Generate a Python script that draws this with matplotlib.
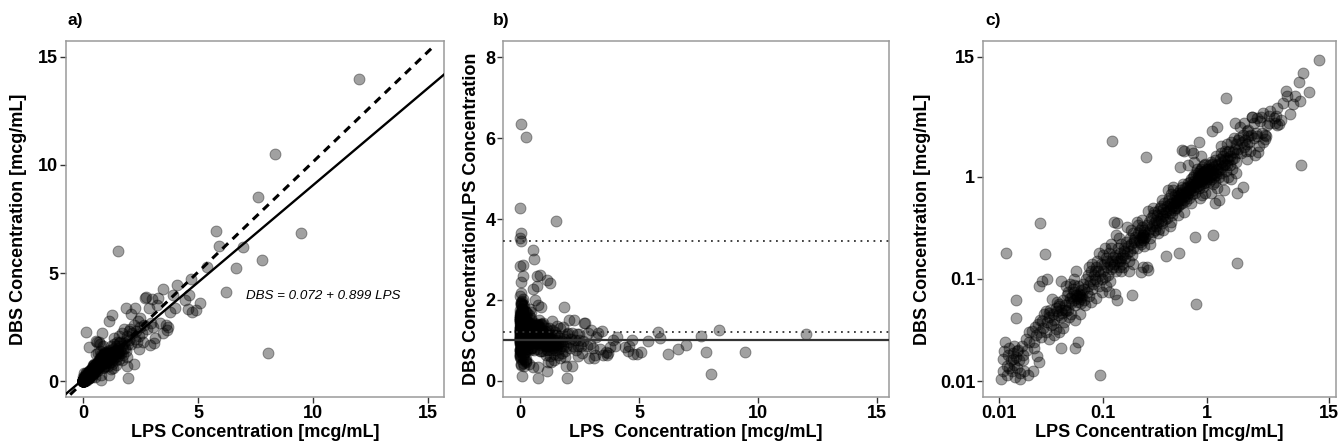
import numpy as np
import matplotlib
matplotlib.use("Agg")
import matplotlib.pyplot as plt

plt.rcParams["font.family"] = ["Liberation Sans", "DejaVu Sans"]

# LPS vs DBS concentration pairs [mcg/mL] (grouped by LPS range)
lps = [
    0.0105, 0.0108, 0.011, 0.0112, 0.0115, 0.012, 0.0118, 0.0122, 0.0125, 0.0124, 0.0116,
    0.013, 0.0132, 0.0135, 0.0138, 0.014, 0.0142, 0.0145, 0.0148, 0.015, 0.0145, 0.0145, 0.0152, 0.0155, 0.0158, 0.0135,
    0.016, 0.0165, 0.017, 0.0175, 0.018, 0.0185, 0.019, 0.0195, 0.0168, 0.0192,
    0.0205, 0.021, 0.0215, 0.022, 0.0225, 0.023, 0.0235, 0.024, 0.0245, 0.024, 0.0215, 0.0248,
    0.025, 0.0255, 0.026, 0.0265, 0.027, 0.0277, 0.028, 0.0285, 0.029, 0.03, 0.0305, 0.031, 0.0315, 0.026, 0.029, 0.03,
    0.0325, 0.033, 0.034, 0.035, 0.0355, 0.036, 0.037, 0.0375, 0.038, 0.039, 0.0395, 0.034, 0.036, 0.038, 0.039, 0.033, 0.039,
    0.04, 0.041, 0.042, 0.043, 0.044, 0.045, 0.046, 0.047, 0.048, 0.049, 0.0415, 0.044, 0.046, 0.048, 0.0495, 0.043, 0.047,
    0.05, 0.051, 0.052, 0.053, 0.054, 0.055, 0.056, 0.057, 0.058, 0.059, 0.06, 0.061, 0.062, 0.0525, 0.055, 0.054, 0.057,
    0.06, 0.054, 0.057, 0.06, 0.062, 0.053,
    0.063, 0.064, 0.065, 0.066, 0.068, 0.07, 0.071, 0.072, 0.074, 0.075, 0.076, 0.078, 0.079, 0.067, 0.073, 0.077,
    0.08, 0.082, 0.084, 0.085, 0.087, 0.088, 0.09, 0.092, 0.094, 0.095, 0.097, 0.099, 0.094, 0.086, 0.091, 0.098, 0.083,
    0.1, 0.102, 0.104, 0.106, 0.108, 0.11, 0.112, 0.114, 0.116, 0.118, 0.12, 0.121, 0.122, 0.124, 0.125, 0.107, 0.113,
    0.119, 0.105, 0.117,
    0.127, 0.13, 0.132, 0.135, 0.138, 0.14, 0.142, 0.145, 0.148, 0.15, 0.152, 0.155, 0.158, 0.13, 0.137, 0.143, 0.156,
    0.134, 0.15, 0.146, 0.126, 0.135,
    0.16, 0.163, 0.166, 0.17, 0.173, 0.176, 0.18, 0.183, 0.186, 0.19, 0.193, 0.196, 0.199, 0.19, 0.17, 0.178, 0.185, 0.195,
    0.2, 0.205, 0.21, 0.215, 0.22, 0.225, 0.23, 0.232, 0.235, 0.238, 0.24, 0.242, 0.245, 0.248, 0.21, 0.23, 0.236, 0.244,
    0.228, 0.218, 0.24, 0.246,
    0.25, 0.255, 0.26, 0.262, 0.27, 0.275, 0.28, 0.285, 0.29, 0.295, 0.3, 0.305, 0.31, 0.315, 0.27, 0.27, 0.3, 0.265,
    0.28, 0.31,
    0.32, 0.325, 0.33, 0.335, 0.34, 0.345, 0.35, 0.355, 0.36, 0.365, 0.37, 0.375, 0.38, 0.385, 0.39, 0.395, 0.34, 0.37,
    0.38, 0.36,
    0.4, 0.4, 0.41, 0.415, 0.42, 0.43, 0.435, 0.44, 0.445, 0.45, 0.455, 0.46, 0.465, 0.47, 0.475, 0.48, 0.485, 0.49,
    0.495, 0.42, 0.45, 0.47, 0.44, 0.49,
    0.5, 0.505, 0.51, 0.515, 0.52, 0.525, 0.53, 0.535, 0.54, 0.54, 0.545, 0.55, 0.555, 0.56, 0.565, 0.57, 0.575, 0.58,
    0.585, 0.59, 0.595, 0.6, 0.61, 0.62, 0.625, 0.55, 0.6, 0.57, 0.6, 0.52,
    0.63, 0.64, 0.645, 0.65, 0.66, 0.665, 0.67, 0.68, 0.685, 0.69, 0.7, 0.705, 0.71, 0.72, 0.725, 0.73, 0.735, 0.74,
    0.75, 0.755, 0.76, 0.77, 0.77, 0.78, 0.785, 0.79, 0.795, 0.78, 0.7, 0.75, 0.7, 0.65,
    0.8, 0.81, 0.815, 0.82, 0.84, 0.83, 0.84, 0.845, 0.85, 0.86, 0.865, 0.87, 0.875, 0.88, 0.89, 0.895, 0.9, 0.905,
    0.91, 0.92, 0.925, 0.93, 0.94, 0.945, 0.95, 0.96, 0.965, 0.97, 0.98, 0.99, 0.85, 0.9, 0.95, 0.88,
    1.0, 1.01, 1.02, 1.03, 1.04, 1.05, 1.06, 1.07, 1.08, 1.09, 1.1, 1.11, 1.12, 1.13, 1.14, 1.15, 1.15, 1.16,
    1.12, 1.18, 1.19, 1.2, 1.21, 1.22, 1.23, 1.24, 1.25, 1.1, 1.2, 1.26,
    1.27, 1.28, 1.3, 1.32, 1.33, 1.35, 1.37, 1.38, 1.4, 1.42, 1.43, 1.45, 1.47, 1.48, 1.52, 1.5, 1.52, 1.54,
    1.55, 1.57, 1.58, 1.3, 1.45, 1.35, 1.56,
    1.6, 1.63, 1.65, 1.68, 1.7, 1.72, 1.75, 1.78, 1.8, 1.82, 1.85, 1.86, 1.88, 1.9, 1.93, 1.96, 1.95, 1.98, 1.7, 1.9,
    2.0, 2.03, 2.07, 2.1, 2.15, 2.2, 2.2, 2.25, 2.28, 2.3, 2.35, 2.4, 2.42, 2.45, 2.48,
    2.5, 2.55, 2.6, 2.65, 2.68, 2.73, 2.8, 2.85, 2.9, 2.95, 3.0, 3.05, 3.1, 3.15, 3.2,
    3.27, 3.35, 3.46, 3.49, 3.6, 3.65, 3.7, 3.8, 3.93, 3.98,
    4.07, 4.43, 4.55, 4.6, 4.7, 4.9, 4.75,
    5.1, 5.4, 5.8, 5.9, 6.23, 6.65, 6.96, 7.6, 7.8, 8.03, 8.35, 9.47, 12.0,
]

dbs = [
    0.0105, 0.0125, 0.0165, 0.0195, 0.024, 0.014, 0.0115, 0.018, 0.021, 0.0135, 0.18,
    0.016, 0.0125, 0.019, 0.022, 0.0145, 0.011, 0.017, 0.0195, 0.0135, 0.062, 0.041, 0.02, 0.016, 0.012, 0.0165,
    0.0105, 0.022, 0.018, 0.0125, 0.026, 0.02, 0.0115, 0.024, 0.016, 0.03,
    0.031, 0.0125, 0.024, 0.034, 0.028, 0.0175, 0.036, 0.0155, 0.03, 0.085, 0.021, 0.04,
    0.355, 0.027, 0.039, 0.033, 0.045, 0.176, 0.03, 0.048, 0.038, 0.042, 0.026, 0.05, 0.035, 0.095, 0.1, 0.046,
    0.063, 0.045, 0.04, 0.052, 0.032, 0.048, 0.044, 0.057, 0.03, 0.05, 0.042, 0.028, 0.06, 0.054, 0.095, 0.036, 0.021,
    0.046, 0.062, 0.038, 0.055, 0.048, 0.07, 0.05, 0.042, 0.065, 0.058, 0.033, 0.085, 0.075, 0.09, 0.045, 0.05, 0.06,
    0.068, 0.08, 0.062, 0.075, 0.055, 0.07, 0.065, 0.085, 0.06, 0.072, 0.064, 0.078, 0.058, 0.1, 0.12, 0.021, 0.024,
    0.045, 0.04, 0.068, 0.07, 0.066, 0.088,
    0.07, 0.09, 0.062, 0.08, 0.1, 0.075, 0.11, 0.085, 0.068, 0.095, 0.12, 0.08, 0.14, 0.055, 0.13, 0.06,
    0.09, 0.11, 0.1, 0.13, 0.095, 0.15, 0.12, 0.085, 0.11, 0.14, 0.1, 0.17, 0.0114, 0.065, 0.18, 0.075, 0.12,
    0.12, 0.14, 0.105, 0.16, 0.13, 0.15, 0.11, 0.18, 0.14, 0.125, 0.2, 2.27, 0.15, 0.165, 0.13, 0.085, 0.075,
    0.22, 0.2, 0.095,
    0.14, 0.17, 0.12, 0.16, 0.2, 0.15, 0.13, 0.18, 0.16, 0.22, 0.14, 0.17, 0.19, 0.072, 0.062, 0.25, 0.13,
    0.27, 0.12, 0.15, 0.36, 0.35,
    0.2, 0.16, 0.23, 0.18, 0.21, 0.15, 0.25, 0.19, 0.22, 0.17, 0.28, 0.2, 0.24, 0.069, 0.32, 0.12, 0.3, 0.14,
    0.23, 0.26, 0.2, 0.28, 0.24, 0.3, 0.22, 0.26, 0.25, 0.32, 0.24, 0.27, 0.21, 0.29, 0.36, 0.118, 0.38, 0.13,
    0.23, 0.34, 0.27, 0.25,
    0.3, 0.26, 1.57, 0.34, 0.28, 0.36, 0.31, 0.25, 0.4, 0.33, 0.29, 0.42, 0.35, 0.3, 0.46, 0.123, 0.5, 0.13,
    0.22, 0.45,
    0.38, 0.33, 0.42, 0.36, 0.46, 0.31, 0.4, 0.5, 0.37, 0.43, 0.35, 0.48, 0.41, 0.55, 0.39, 0.45, 0.28, 0.6,
    0.3, 0.52,
    0.168, 0.45, 0.52, 0.4, 0.58, 0.47, 0.62, 0.44, 0.54, 0.5, 0.68, 0.42, 0.56, 0.52, 0.74, 0.47, 0.6, 0.55,
    0.5, 0.75, 0.36, 0.8, 0.33, 0.66,
    0.58, 0.5, 0.64, 0.55, 0.7, 0.6, 0.52, 0.66, 0.18, 0.58, 0.75, 0.62, 0.54, 0.68, 0.6, 0.8, 0.56, 0.72,
    0.64, 0.85, 0.6, 0.7, 0.66, 0.78, 0.58, 1.25, 1.8, 1.85, 0.45, 0.42,
    0.72, 0.65, 0.8, 0.7, 0.88, 0.75, 0.62, 0.82, 0.9, 0.72, 0.95, 0.78, 0.68, 0.86, 1.0, 0.8, 1.72, 0.74,
    0.92, 1.05, 0.85, 0.26, 0.7, 1.1, 0.9, 0.8, 1.2, 0.057, 0.55, 1.4, 1.82, 1.3,
    0.88, 1.0, 0.82, 1.1, 2.2, 0.95, 0.78, 1.05, 0.9, 1.15, 0.98, 0.85, 1.2, 1.0, 0.92, 1.25, 1.05, 0.8,
    1.12, 0.96, 1.3, 1.0, 0.88, 1.1, 1.35, 0.98, 1.15, 0.9, 1.05, 1.2, 0.62, 0.66, 0.7, 1.6,
    1.05, 0.95, 1.2, 1.1, 0.9, 1.3, 1.0, 1.15, 1.4, 0.95, 1.2, 1.05, 1.35, 0.85, 1.1, 0.27, 1.25, 1.0,
    2.8, 1.45, 1.1, 0.9, 1.3, 1.6, 1.05, 1.2, 0.78, 0.7, 0.55, 3.06,
    1.15, 1.35, 1.0, 1.5, 1.2, 1.7, 1.1, 1.4, 1.25, 1.6, 0.95, 1.45, 1.3, 1.8, 6.0, 1.35, 1.15, 1.55,
    2.1, 1.3, 1.0, 0.6, 0.75, 2.0, 1.75,
    1.45, 1.8, 1.3, 1.6, 2.2, 1.5, 1.2, 1.75, 2.4, 1.55, 1.9, 3.4, 1.4, 2.1, 0.7, 0.145, 1.7, 2.3, 0.95, 1.1,
    1.9, 2.4, 3.1, 1.7, 2.2, 0.79, 2.6, 1.95, 3.4, 2.3, 1.8, 2.8, 2.1, 1.5, 2.5,
    2.9, 2.2, 1.8, 2.6, 3.85, 3.9, 2.4, 3.4, 1.65, 2.7, 3.8, 2.5, 1.75, 2.0, 3.5,
    3.86, 2.67, 4.27, 2.2, 2.6, 2.35, 2.5, 3.2, 4.0, 3.4,
    4.45, 3.75, 3.35, 4.0, 4.7, 3.3, 3.2,
    3.6, 5.3, 6.95, 6.25, 4.1, 5.22, 6.2, 8.5, 5.6, 1.3, 10.5, 6.85, 14.0,
]

assert len(lps) == len(dbs), (len(lps), len(dbs))

# fitted line in a), shown in the annotation
fit_intercept, fit_slope = 0.072, 0.899
# dashed reference line in a) and where it stops
ref_intercept, ref_slope = -0.06, 1.02
ref_end = 15.25
# horizontal reference lines in b)
ratio_solid = 1.0
ratio_dotted = [1.21, 3.46]

lin_ticks = [0, 5, 10, 15]
ratio_ticks = [0, 2, 4, 6, 8]
log_ticks = [0.01, 0.1, 1, 15]
log_labels = ["0.01", "0.1", "1", "15"]

lps = np.array(lps)
dbs = np.array(dbs)
ratio = dbs / lps

W, H = 1339, 447
fig = plt.figure(figsize=(W / 100, H / 100), dpi=100)


def box(left, right, top=41, bottom=397):
    return [left / W, 1 - bottom / H, (right - left) / W, (bottom - top) / H]


ax_a = fig.add_axes(box(66, 444))
ax_b = fig.add_axes(box(503, 889))
ax_c = fig.add_axes(box(983, 1336))

pt_style = dict(s=62, facecolor="black", edgecolor="black", linewidths=0.7, alpha=0.37, zorder=2)
tick_font = dict(fontsize=13, fontweight="bold")
label_font = dict(fontsize=13, fontweight="bold")


def style(ax):
    for sp in ax.spines.values():
        sp.set_color("#9a9a9a")
        sp.set_linewidth(1.1)
    ax.tick_params(direction="out", length=4, width=1, color="#333333", pad=1.5)
    ax.minorticks_off()


# a) linear scatter
ax_a.scatter(lps, dbs, **pt_style)
xx = np.array([-1, 17])
ax_a.plot(xx, fit_intercept + fit_slope * xx, color="black", lw=1.7, zorder=3)
xd = np.array([-1, ref_end])
ax_a.plot(xd, ref_intercept + ref_slope * xd, color="black", lw=2.2, dashes=(2.6, 2.0), zorder=3)
ax_a.set_xlim(-0.74, 15.7)
ax_a.set_ylim(-0.74, 15.74)
ax_a.set_xticks(lin_ticks, [str(t) for t in lin_ticks], **tick_font)
ax_a.set_yticks(lin_ticks, [str(t) for t in lin_ticks], **tick_font)
ax_a.set_xlabel("LPS Concentration [mcg/mL]", labelpad=2, **label_font)
ax_a.set_ylabel("DBS Concentration [mcg/mL]", labelpad=8, **label_font)
ax_a.text(7.1, 3.95, "DBS = 0.072 + 0.899 LPS", fontsize=9.6, style="italic", va="center", ha="left")
style(ax_a)

# b) ratio vs LPS
ax_b.scatter(lps, ratio, **pt_style)
ax_b.axhline(ratio_solid, color="#333333", lw=1.6, zorder=3)
for yv in ratio_dotted:
    ax_b.axhline(yv, color="#333333", lw=1.3, linestyle=(0, (1, 2.6)), zorder=3)
ax_b.set_xlim(-0.71, 15.5)
ax_b.set_ylim(-0.4, 8.4)
ax_b.set_xticks(lin_ticks, [str(t) for t in lin_ticks], **tick_font)
ax_b.set_yticks(ratio_ticks, [str(t) for t in ratio_ticks], **tick_font)
ax_b.set_xlabel("LPS  Concentration [mcg/mL]", labelpad=2, **label_font)
ax_b.set_ylabel("DBS Concentration/LPS Concentration", labelpad=4, **label_font)
style(ax_b)

# c) log-log scatter
ax_c.scatter(lps, dbs, **pt_style)
ax_c.set_xscale("log")
ax_c.set_yscale("log")
ax_c.set_xlim(0.0070, 17.4)
ax_c.set_ylim(0.00697, 21.5)
ax_c.set_xticks(log_ticks, log_labels, **tick_font)
ax_c.set_yticks(log_ticks, log_labels, **tick_font)
ax_c.set_xlabel("LPS Concentration [mcg/mL]", labelpad=2, **label_font)
ax_c.set_ylabel("DBS Concentration [mcg/mL]", labelpad=6.5, **label_font)
style(ax_c)

for lbl, xpx in [("a)", 67), ("b)", 493), ("c)", 985)]:
    fig.text(xpx / W, 1 - 20 / H, lbl, fontsize=12.5, fontweight="bold", va="center", ha="left")

fig.savefig("out.png", dpi=100)
